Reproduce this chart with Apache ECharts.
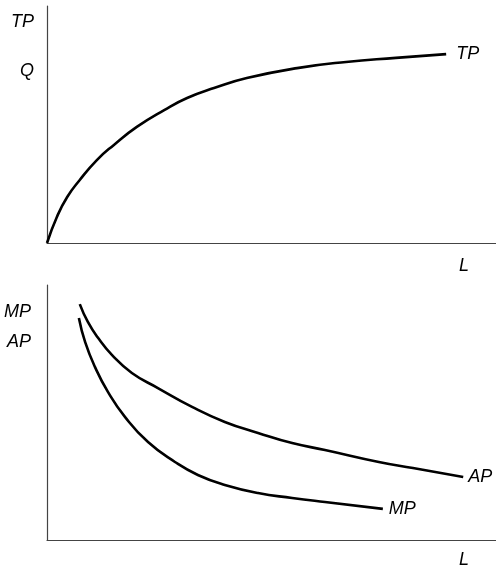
<!DOCTYPE html>
<html>
<head>
<meta charset="utf-8">
<script src="https://cdn.jsdelivr.net/npm/echarts@6/dist/echarts.min.js"></script>
<style>
  html, body { margin: 0; padding: 0; background: #fff; }
  #main { width: 496px; height: 569px; }
</style>
</head>
<body>
<div id="main"></div>
<script>
// 总产量曲线 TP（横轴 L，0-100）
var tpX = [0, 2.2, 4.5, 7.3, 11.1, 14.9, 20.0, 26.1, 31.2, 37.2, 44.5, 55.7, 66.6, 77.7, 88.9];
var tpY = [0, 11.0, 19.4, 26.6, 35.0, 41.4, 49.0, 56.1, 61.2, 65.4, 69.6, 73.8, 76.4, 78.1, 79.7];
// 平均产量 AP
var apX = [7.3, 9.1, 11.4, 14.5, 18.9, 24.7, 32.3, 39.6, 47.0, 54.6, 61.9, 73.9, 81.5, 92.7];
var apY = [92.5, 85.5, 79.2, 72.5, 65.5, 59.6, 52.2, 46.3, 42.0, 38.0, 35.3, 30.6, 28.2, 24.7];
// 边际产量 MP
var mpX = [7.1, 8.5, 10.7, 13.6, 17.4, 22.5, 28.5, 33.6, 39.6, 47.0, 54.6, 61.9, 74.8];
var mpY = [87.1, 77.6, 67.8, 58.0, 48.2, 38.4, 30.6, 25.5, 21.6, 18.4, 16.5, 14.9, 12.2];

function pairs(xs, ys) {
    var out = [];
    for (var i = 0; i < xs.length; i++) out.push([xs[i], ys[i]]);
    return out;
}

var font = '"Liberation Sans", Arial, sans-serif';
var axisLine = { show: true, lineStyle: { color: '#444', width: 1.2 } };

function xAx(idx) {
    return {
        type: 'value', gridIndex: idx, min: 0, max: 100,
        axisLine: axisLine, axisTick: { show: false },
        axisLabel: { show: false }, splitLine: { show: false }
    };
}
function yAx(idx) {
    return {
        type: 'value', gridIndex: idx, min: 0, max: 100,
        axisLine: axisLine, axisTick: { show: false },
        axisLabel: { show: false }, splitLine: { show: false }
    };
}
function curve(name, data, idx, dist) {
    return {
        name: name, type: 'line', xAxisIndex: idx, yAxisIndex: idx,
        data: data, smooth: 0.5, symbol: 'none', silent: true,
        lineStyle: { color: '#000', width: 2.6 },
        endLabel: {
            show: true, formatter: name, distance: dist,
            color: '#000', fontSize: 18, fontStyle: 'italic', fontFamily: font
        }
    };
}
function txt(x, y, s) {
    return {
        type: 'text', left: x, top: y,
        style: { text: s, fill: '#000', font: 'italic 18px ' + font }
    };
}

var chart = echarts.init(document.getElementById('main'));
var option = {
    backgroundColor: '#fff',
    animation: false,
    grid: [
        { left: 47, right: 0, top: 6, height: 237 },
        { left: 47, right: 0, top: 285, height: 255 }
    ],
    xAxis: [xAx(0), xAx(1)],
    yAxis: [yAx(0), yAx(1)],
    series: [
        curve('TP', pairs(tpX, tpY), 0, 10),
        curve('AP', pairs(apX, apY), 1, 5),
        curve('MP', pairs(mpX, mpY), 1, 6)
    ],
    graphic: [
        txt(11, 13, 'TP'),
        txt(20, 62, 'Q'),
        txt(459, 257, 'L'),
        txt(4, 303, 'MP'),
        txt(7, 333, 'AP'),
        txt(459, 551, 'L')
    ]
};
chart.setOption(option);
</script>
</body>
</html>
